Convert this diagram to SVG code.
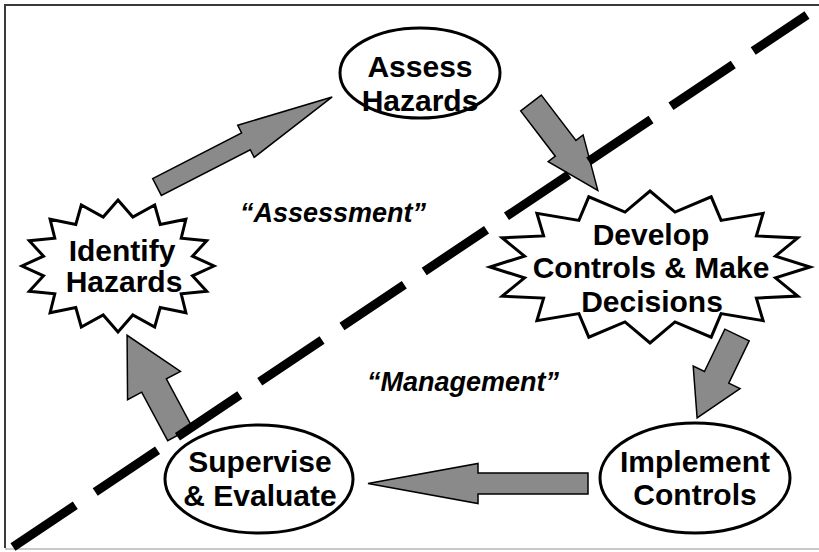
<svg xmlns="http://www.w3.org/2000/svg" width="819" height="552" viewBox="0 0 819 552">
<style>
.node{fill:#fff;stroke:#000;stroke-width:3}
.arrow{fill:#8a8a8a;stroke:#000;stroke-width:1.5;stroke-linejoin:miter}
.t{font-family:"Liberation Sans",Arial,sans-serif;font-weight:bold;font-size:30px;fill:#000;text-anchor:middle}
.lbl{font-family:"Liberation Sans",Arial,sans-serif;font-weight:bold;font-style:italic;font-size:27px;fill:#000;text-anchor:middle}
.sep{fill:none;stroke:#000;stroke-width:9;stroke-dasharray:75 24}
</style>
<rect x="0" y="0" width="819" height="552" fill="#fff"/>
<path d="M5,548 L5,5 L819,5" fill="none" stroke="#3a3a3a" stroke-width="2"/>
<path d="M5,549 L819,549" fill="none" stroke="#c8c8c8" stroke-width="2"/>

<g id="connectors">
  <path class="arrow" transform="translate(157,187) rotate(-27.2)" d="M0,-9.5 L100,-9.5 L100,-18 L197,0 L100,18 L100,9.5 L0,9.5 Z"/>
  <path class="arrow" transform="translate(531,103) rotate(52.6)" d="M0,-13 L57,-13 L57,-22 L110,0 L57,22 L57,13 L0,13 Z"/>
  <path class="arrow" transform="translate(737,335) rotate(115.7)" d="M0,-13.5 L47,-13.5 L47,-26 L92,0 L47,26 L47,13.5 L0,13.5 Z"/>
  <path class="arrow" transform="translate(588,483.5) rotate(180)" d="M0,-10.5 L110,-10.5 L110,-20 L220,0 L110,20 L110,10.5 L0,10.5 Z"/>
  <path class="arrow" transform="translate(180,434) rotate(-118.2)" d="M0,-14 L55,-14 L55,-30 L112,0 L55,30 L55,14 L0,14 Z"/>
</g>

<line class="sep" x1="13" y1="547" x2="807" y2="15"/>

<g id="identify-hazards">
  <polygon class="node" points="214,266 192.5,275.8 206.7,291.3 181.2,293.8 185.9,312.7 160.2,307.6 154.7,327 132.8,315 118,332 103.2,315 81.3,327 75.8,307.6 50.1,312.7 54.8,293.8 29.3,291.3 43.5,275.8 22,266 43.5,256.2 29.3,240.7 54.8,238.2 50.1,219.3 75.8,224.4 81.3,205 103.2,217 118,200 132.8,217 154.7,205 160.2,224.4 185.9,219.3 181.2,238.2 206.7,240.7 192.5,256.2"/>
  <text class="t" x="122" y="261">Identify</text>
  <text class="t" x="124" y="292">Hazards</text>
</g>

<g id="assess-hazards">
  <ellipse class="node" cx="420" cy="73" rx="80" ry="45"/>
  <text class="t" x="420" y="77">Assess</text>
  <text class="t" x="420" y="111">Hazards</text>
</g>

<g id="develop-controls">
  <polygon class="node" points="810,267 775.5,277.9 797.8,296.1 756.4,298.1 763.1,320.7 721.1,313.6 711.2,337.2 675,321.9 650,343 625,321.9 588.8,337.2 578.9,313.6 536.9,320.7 543.6,298.1 502.2,296.1 524.5,277.9 490,267 524.5,256.1 502.2,237.9 543.6,235.9 536.9,213.3 578.9,220.4 588.8,196.8 625,212.1 650,191 675,212.1 711.2,196.8 721.1,220.4 763.1,213.3 756.4,235.9 797.8,237.9 775.5,256.1"/>
  <text class="t" x="651" y="245">Develop</text>
  <text class="t" x="651" y="278">Controls &amp; Make</text>
  <text class="t" x="652" y="312">Decisions</text>
</g>

<g id="implement-controls">
  <ellipse class="node" cx="695" cy="478" rx="95" ry="55"/>
  <text class="t" x="695" y="472">Implement</text>
  <text class="t" x="695" y="505">Controls</text>
</g>

<g id="supervise-evaluate">
  <ellipse class="node" cx="259" cy="479" rx="94" ry="54"/>
  <text class="t" x="260" y="472">Supervise</text>
  <text class="t" x="260" y="506">&amp; Evaluate</text>
</g>

<text class="lbl" x="333" y="222">“Assessment”</text>
<text class="lbl" x="463" y="391">“Management”</text>
</svg>
